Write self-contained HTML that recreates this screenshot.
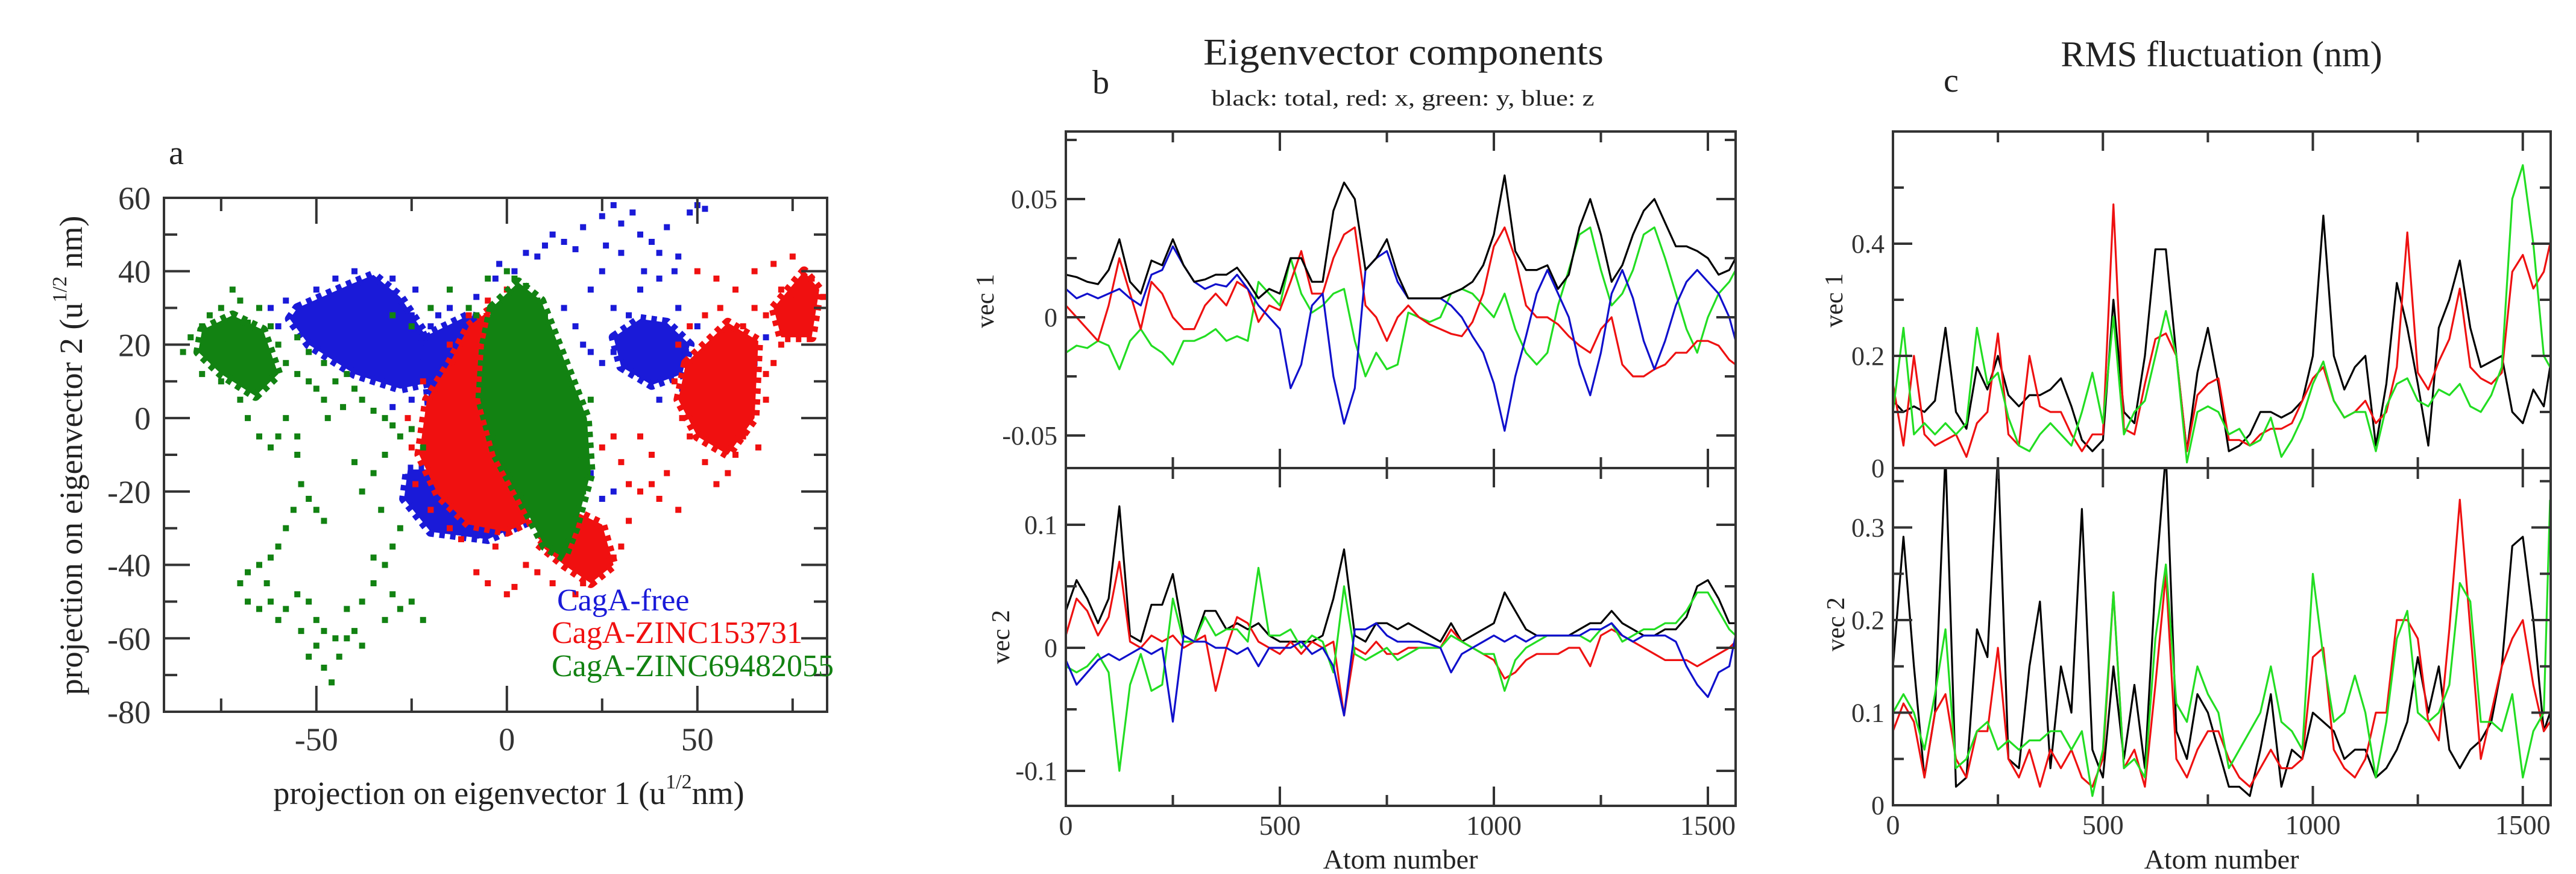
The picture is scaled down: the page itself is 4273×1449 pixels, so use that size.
<!DOCTYPE html>
<html><head><meta charset="utf-8"><style>
html,body{margin:0;padding:0;background:#fff;}
svg{display:block;}
text{font-family:"Liberation Serif","DejaVu Serif",serif;}
</style></head><body>
<svg id="fig" width="4273" height="1449" viewBox="0 0 4273 1449" xmlns="http://www.w3.org/2000/svg">
<defs>
<clipPath id="clipA"><rect x="272" y="328" width="1100" height="852"/></clipPath>
<clipPath id="clipB1"><rect x="1768" y="218" width="1111" height="558"/></clipPath>
<clipPath id="clipB2"><rect x="1768" y="776" width="1111" height="560"/></clipPath>
<clipPath id="clipC1"><rect x="3140" y="218" width="1091" height="558"/></clipPath>
<clipPath id="clipC2"><rect x="3140" y="776" width="1091" height="559"/></clipPath>
</defs>
<g id="panelA"></g>
<g id="panelB"></g>
<g id="panelC"></g>
<g fill="#222">
<text x="280" y="272" font-size="56">a</text>
<text x="1812" y="155" font-size="56">b</text>
<text x="3224" y="152" font-size="56">c</text>
<text x="2328" y="107" font-size="62" text-anchor="middle" textLength="664" lengthAdjust="spacingAndGlyphs">Eigenvector components</text>
<text x="2327" y="175" font-size="37" text-anchor="middle" textLength="635" lengthAdjust="spacingAndGlyphs">black: total, red: x, green: y, blue: z</text>
<text x="3685" y="110" font-size="60" text-anchor="middle">RMS fluctuation (nm)</text>
<text x="844" y="1333" font-size="54" text-anchor="middle">projection on eigenvector 1 (u<tspan dy="-26" font-size="34">1/2</tspan><tspan dy="26">nm)</tspan></text>
<text transform="translate(136,755) rotate(-90)" font-size="54" text-anchor="middle">projection on eigenvector 2 (u<tspan dy="-26" font-size="34">1/2</tspan><tspan dy="26"> nm)</tspan></text>
<text x="2323" y="1440" font-size="46" text-anchor="middle">Atom number</text>
<text x="3685" y="1440" font-size="46" text-anchor="middle">Atom number</text>
<text transform="translate(1648,499) rotate(-90)" font-size="42" text-anchor="middle">vec 1</text>
<text transform="translate(1674,1056) rotate(-90)" font-size="42" text-anchor="middle">vec 2</text>
<text transform="translate(3056,498) rotate(-90)" font-size="42" text-anchor="middle">vec 1</text>
<text transform="translate(3059,1035) rotate(-90)" font-size="42" text-anchor="middle">vec 2</text>
<text x="924" y="1012" font-size="52" fill="#1a1ad8">CagA-free</text>
<text x="915" y="1066" font-size="52" fill="#f01010">CagA-ZINC153731</text>
<text x="915" y="1121" font-size="52" fill="#128212">CagA-ZINC69482055</text>
</g>
</svg>
<script>
const blueCorePolys = [
 [[-55,30],[-42,36],[-35,39],[-28,33],[-21,22],[-19,10],[-28,8],[-40,12],[-52,20],[-57,27]],
 [[28,22],[35,27],[42,26],[48,20],[46,12],[38,9],[30,14]],
 [[-26,-14],[-15,-14],[0,-21],[6,-28],[-5,-33],[-20,-31],[-27,-22]],
 [[-22,22],[-10,28],[0,25],[0,0],[-20,0]]
];
const blueSparse = [[5,45],[10,47],[12,50],[15,48],[18,46],[-2,42],[2,40],[20,52],[25,55],[28,58],[30,53],[33,56],[35,50],[38,48],[40,45],[42,52],[45,44],[48,56],[50,58],[52,57],[30,45],[25,40],[22,35],[28,30],[32,28],[35,35],[40,38],[15,30],[18,25],[20,20],[22,18],[25,15],[28,18],[45,30],[50,25],[55,20],[60,18],[65,15],[68,22],[62,8],[58,5],[52,10],[-3,38],[-8,33],[-15,30],[-18,28],[-62,30],[-60,25],[-58,32],[-50,35],[-45,38],[-40,40],[-35,36],[-30,34],[-25,28],[-20,25],[-22,15],[-18,5],[-25,5],[-30,3],[-20,-2],[-22,-22],[-26,-16],[-20,-26],[-12,-30],[-8,-32],[0,-30],[5,-25],[20,-5],[22,-15],[25,-22],[28,-20],[12,-20],[42,15],[46,8],[40,5],[35,12],[8,44],[-30,38],[-48,28],[-24,35],[55,15],[63,20],[47,18],[36,40],[26,47],[44,40]];
const redCorePolys = [
 [[-10,25],[-5,29],[0,16],[1,-10],[6,-28],[0,-31],[-10,-29],[-18,-21],[-23,-10],[-21,5],[-15,15]],
 [[47,15],[58,26],[66,21],[65,0],[58,-10],[50,-5],[45,5]],
 [[70,30],[78,40],[82,35],[80,22],[72,22]],
 [[15,-24],[25,-29],[28,-40],[22,-45],[15,-40],[8,-34]]
];
const redSparse = [[50,40],[55,38],[60,35],[65,40],[70,42],[75,44],[80,38],[83,33],[78,30],[72,35],[68,28],[62,25],[56,30],[52,28],[48,25],[45,20],[44,10],[46,0],[48,-5],[52,-12],[55,-18],[58,-15],[60,-10],[62,-5],[66,-8],[68,5],[70,15],[72,20],[65,30],[42,-15],[40,-22],[35,-20],[32,-18],[30,-12],[28,-5],[25,-8],[35,-5],[38,-10],[45,-25],[20,-45],[18,-48],[12,-45],[8,-42],[5,-40],[2,-46],[0,-48],[-5,-45],[-8,-42],[-3,-35],[-12,-33],[-15,-30],[-20,-25],[-24,-18],[-25,-8],[-26,0],[-22,10],[-15,20],[-10,28],[-5,32],[0,35],[25,-40],[28,-38],[30,-35],[22,-35],[15,-30],[32,-28],[38,-18],[60,12],[54,5],[62,-2],[76,32],[74,26],[68,12]];
const greenCorePolys = [
 [[-4,30],[3,37],[9,32],[15,16],[21,0],[22,-15],[18,-30],[15,-38],[10,-35],[5,-25],[-3,-10],[-7,5],[-6,20]],
 [[-80,24],[-72,28],[-64,24],[-60,12],[-66,6],[-75,12],[-81,18]]
];
const greenSparse = [[-85,18],[-83,22],[-80,25],[-78,28],[-75,30],[-72,35],[-70,32],[-68,26],[-65,30],[-62,25],[-60,20],[-58,15],[-55,12],[-52,10],[-50,8],[-48,5],[-45,10],[-42,12],[-40,8],[-38,5],[-35,2],[-32,0],[-30,-2],[-28,-5],[-25,-3],[-22,-8],[-55,22],[-52,18],[-48,15],[-58,0],[-55,-5],[-60,-5],[-62,-8],[-65,-5],[-68,0],[-70,5],[-75,10],[-80,12],[-55,-10],[-54,-18],[-52,-22],[-50,-25],[-48,-28],[-56,-25],[-58,-30],[-60,-35],[-62,-38],[-65,-40],[-68,-42],[-70,-45],[-68,-50],[-65,-52],[-62,-50],[-60,-55],[-58,-52],[-55,-48],[-52,-50],[-50,-55],[-48,-58],[-50,-62],[-52,-65],[-48,-68],[-46,-72],[-44,-65],[-42,-60],[-40,-58],[-38,-62],[-42,-52],[-38,-50],[-35,-45],[-32,-40],[-30,-35],[-28,-30],[-30,-48],[-28,-52],[-25,-50],[-22,-55],[-32,-55],[-35,-38],[-33,-25],[-38,-20],[-35,-15],[-32,-10],[-40,-12],[-15,35],[-10,30],[-8,28],[-5,38],[0,40],[2,38],[5,36],[8,32],[10,28],[-20,30],[-25,25],[-30,28],[-73,20],[-77,15],[-66,18],[-62,14],[-45,-60],[-54,-58],[-63,-45],[-47,0],[-43,3],[20,-20],[18,-10],[22,5]];

const atoms = [0,25,50,75,100,125,150,175,200,225,250,275,300,325,350,375,400,425,450,475,500,525,550,575,600,625,650,675,700,725,750,775,800,825,850,875,900,925,950,975,1000,1025,1050,1075,1100,1125,1150,1175,1200,1225,1250,1275,1300,1325,1350,1375,1400,1425,1450,1475,1500,1525,1550,1565];
const b1Total = [18,17,15,14,20,33,15,10,24,22,33,22,15,16,18,18,21,15,8,12,10,25,25,15,15,45,57,50,20,25,33,18,8,8,8,8,10,12,15,22,35,60,28,20,20,22,12,18,38,50,35,15,22,35,45,50,40,30,30,28,25,18,20,25];
const b1X = [5,0,-5,-10,5,25,10,-5,15,10,0,-5,-5,5,10,5,15,12,-2,5,3,15,28,10,10,25,35,38,5,0,-10,0,5,0,-3,-5,-7,-8,-2,10,30,38,25,5,0,0,-3,-8,-12,-15,-5,0,-20,-25,-25,-22,-20,-15,-15,-10,-10,-12,-18,-20];
const b1Y = [-15,-12,-13,-10,-12,-22,-10,-5,-12,-15,-20,-10,-10,-8,-5,-10,-8,-10,15,10,5,25,10,2,5,10,12,-10,-25,-15,-22,-20,2,0,-2,0,10,12,10,5,0,10,-5,-15,-20,-15,5,20,35,38,20,5,10,20,35,38,25,10,-5,-15,0,10,15,20];
const b1Z = [12,8,10,8,10,12,8,5,18,20,30,22,15,12,14,13,18,12,5,0,-5,-30,-20,5,10,-25,-45,-30,20,25,28,15,8,8,8,8,5,0,-8,-15,-28,-48,-25,-8,10,20,10,0,-20,-33,-15,10,20,8,-10,-22,-10,5,15,20,15,10,0,-10];
const b2Total = [30,55,40,20,40,115,10,5,35,35,60,10,5,30,30,15,20,15,20,10,5,5,5,5,10,40,80,10,5,20,20,15,20,15,10,5,20,5,10,15,20,45,30,15,10,10,10,10,15,20,20,30,20,15,10,10,15,15,25,50,55,40,20,20];
const b2X = [10,40,30,10,25,70,5,0,10,5,10,0,5,10,-35,0,25,20,5,0,-5,5,-5,5,0,5,-55,0,-5,5,-5,-5,0,0,0,0,15,5,0,-5,-10,-25,-20,-10,-5,-5,-5,0,0,-15,10,15,10,5,0,-5,-10,-10,-10,-15,-10,-5,0,5];
const b2Y = [-15,-20,-15,-5,-20,-100,-30,-5,-35,-30,40,5,5,25,10,15,15,5,65,10,10,15,0,10,5,-20,50,-5,-10,-5,0,-10,-5,0,0,0,10,5,0,-5,-5,-35,-10,0,5,10,10,10,10,5,15,20,5,10,15,15,20,20,30,45,45,30,15,10];
const b2Z = [-10,-30,-20,-10,-5,-10,-5,0,-5,0,-60,10,5,5,0,0,-5,0,-15,0,0,0,5,-5,0,-15,-55,15,15,20,10,5,5,5,3,0,-20,-5,0,5,10,5,10,5,10,10,10,10,10,15,15,20,10,5,10,10,10,5,-15,-30,-40,-20,-15,10];
const c1Total = [120,100,110,100,120,250,100,70,180,140,200,130,110,130,130,140,160,110,50,30,50,300,100,80,200,390,390,200,30,170,250,150,30,40,60,100,100,90,100,120,200,450,200,140,180,200,40,150,330,250,150,40,250,300,370,250,180,190,200,100,80,140,110,180];
const c1X = [150,40,200,60,40,50,60,20,80,100,240,60,40,200,110,100,100,60,30,60,60,470,70,60,150,230,240,200,30,130,150,160,50,50,40,60,70,70,80,120,160,180,120,90,100,120,80,100,180,420,170,140,190,230,320,180,160,150,170,350,380,320,350,400];
const c1Y = [100,250,60,80,60,80,60,80,250,150,170,90,40,30,60,80,60,40,100,170,80,270,60,100,120,200,280,200,10,100,110,100,60,70,40,50,90,20,50,90,150,190,120,90,100,100,30,110,150,160,120,110,140,130,150,110,100,130,180,480,540,400,200,180];
const c2Total = [150,290,150,30,100,380,20,30,190,160,380,50,40,150,220,40,150,100,320,60,30,150,50,130,40,240,380,80,50,120,100,60,20,20,10,60,120,20,60,50,100,90,80,50,60,60,30,40,60,90,160,100,150,60,40,60,70,90,150,280,290,200,80,100];
const c2X = [80,110,90,30,100,120,50,30,80,80,170,50,30,60,20,60,40,60,30,20,50,230,40,60,20,130,250,50,30,60,80,80,50,30,20,40,60,40,40,50,160,170,60,40,30,50,100,100,200,200,180,90,70,190,330,190,50,100,150,180,200,130,80,90];
const c2Y = [100,120,100,60,120,190,40,50,80,90,60,70,60,70,70,80,80,60,80,10,60,230,40,50,30,180,260,110,90,150,120,100,40,60,80,100,150,90,80,60,250,160,90,100,140,100,30,90,180,210,100,90,100,130,240,220,90,90,80,120,30,80,100,330];

const NS = 'http://www.w3.org/2000/svg';
function mk(tag, attrs, parent){
  const e = document.createElementNS(NS, tag);
  for (const k in attrs) e.setAttribute(k, attrs[k]);
  parent.appendChild(e);
  return e;
}
function ticks(g, o){
  let d = '';
  o.xs.forEach(t => {
    if (o.bottom) d += `M${t[0]},${o.y1}v${-t[1]}`;
    if (o.top) d += `M${t[0]},${o.y0}v${t[1]}`;
  });
  o.ys.forEach(t => {
    d += `M${o.x0},${t[0]}h${t[1]}M${o.x1},${t[0]}h${-t[1]}`;
  });
  const p = mk('path', {d: d, stroke: '#333', 'stroke-width': 4, fill: 'none'}, g);
  
  
}
function label(g, x, y, txt, anchor, size, name){
  const t = mk('text', {x: x, y: y, 'font-size': size, 'text-anchor': anchor, fill: '#333'}, g);
  t.textContent = txt;
  
  
}

(function(){
  const g = document.getElementById('panelA');
  const X = v => 272 + (v + 90) * 6.32;
  const Y = v => 1180 - (v + 80) * 6.086;
  const plot = mk('g', {'clip-path': 'url(#clipA)'}, g);
  
  
  function series(polys, pts, color, name){
    const sg = mk('g', {fill: color}, plot);
    
    
    polys.forEach(p => {
      const poly = mk('polygon', {points: p.map(q => X(q[0]) + ',' + Y(q[1])).join(' '), stroke: color, 'stroke-width': 16, 'stroke-dasharray': '9 9', 'stroke-linejoin': 'round'}, sg);
      
      
    });
    pts.forEach(q => {
      const r = mk('rect', {x: X(q[0]) - 5, y: Y(q[1]) - 5, width: 10, height: 10}, sg);
      
      
    });
  }
  series(blueCorePolys, blueSparse, '#1a1ad8', 'series-cagA-free');
  series(redCorePolys, redSparse, '#f01010', 'series-zinc153731');
  series(greenCorePolys, greenSparse, '#128212', 'series-zinc69482055');
  const fr = mk('rect', {x: 272, y: 328, width: 1100, height: 852, fill: 'none', stroke: '#333', 'stroke-width': 4}, g);
  
  
  const xs = [], ys = [];
  [-75,-50,-25,0,25,50,75].forEach(v => xs.push([X(v), v % 50 === 0 ? 43 : 22]));
  for (let v = -70; v <= 50; v += 10) ys.push([Y(v), v % 20 === 0 ? 43 : 22]);
  ticks(g, {x0: 272, x1: 1372, y0: 328, y1: 1180, xs: xs, ys: ys, top: true, bottom: true, name: 'axis-ticks-a'});
  [-50,0,50].forEach(v => label(g, X(v), 1244, String(v), 'middle', 54, 'x-tick-label'));
  for (let v = -80; v <= 60; v += 20) label(g, 250, Y(v) + 19, String(v), 'end', 54, 'y-tick-label');
})();

function linePanel(g, cfg){
  const X = a => cfg.x0 + a * cfg.sx;
  cfg.subs.forEach(s => {
    const Y = v => s.zero - v / 1000 * s.sy;
    const lg = mk('g', {'clip-path': `url(#${s.clip})`, fill: 'none', 'stroke-width': 3.2, 'stroke-linejoin': 'round'}, g);
    
    
    s.series.forEach(sr => {
      const d = sr.vals.map((v, i) => (i ? 'L' : 'M') + X(atoms[i]).toFixed(1) + ',' + Y(v).toFixed(1)).join('');
      const p = mk('path', {d: d, stroke: sr.color}, lg);
      
      
    });
    const xs = [];
    [250,500,750,1000,1250,1500].forEach(a => xs.push([X(a), a % 500 === 0 ? 32 : 18]));
    const ys = s.ticks.map(t => [Y(t[0] * 1000), t[1] ? 32 : 18]);
    ticks(g, {x0: cfg.x0, x1: cfg.x1, y0: s.top, y1: s.bottom, xs: xs, ys: ys, top: true, bottom: true, name: s.name + '-ticks'});
    s.labels.forEach(l => label(g, cfg.labelX, Y(l[0] * 1000) + 15, l[1], 'end', 44, s.name + '-y-tick-label'));
  });
  const fr = mk('rect', {x: cfg.x0, y: cfg.top, width: cfg.x1 - cfg.x0, height: cfg.bottom - cfg.top, fill: 'none', stroke: '#333', 'stroke-width': 4}, g);
  
  
  const dv = mk('line', {x1: cfg.x0, x2: cfg.x1, y1: cfg.mid, y2: cfg.mid, stroke: '#333', 'stroke-width': 4}, g);
  
  
  [0,500,1000,1500].forEach(a => label(g, X(a), cfg.bottom + 48, String(a), 'middle', 46, 'x-tick-label'));
}

linePanel(document.getElementById('panelB'), {
  name: 'panel-b', x0: 1768, x1: 2879, sx: 0.71, top: 218, mid: 776, bottom: 1336, labelX: 1754,
  subs: [
    {name: 'vec1', clip: 'clipB1', zero: 526, sy: 3920, top: 218, bottom: 776,
     ticks: [[-0.05,1],[-0.025,0],[0,1],[0.025,0],[0.05,1],[0.075,0]],
     labels: [[-0.05,'-0.05'],[0,'0'],[0.05,'0.05']],
     series: [{vals: b1Y, color: '#22dd22', name: 'vec1-green-y'},{vals: b1X, color: '#ee1111', name: 'vec1-red-x'},{vals: b1Z, color: '#1010cc', name: 'vec1-blue-z'},{vals: b1Total, color: '#000', name: 'vec1-black-total'}]},
    {name: 'vec2', clip: 'clipB2', zero: 1074, sy: 2040, top: 776, bottom: 1336,
     ticks: [[-0.1,1],[-0.05,0],[0,1],[0.05,0],[0.1,1]],
     labels: [[-0.1,'-0.1'],[0,'0'],[0.1,'0.1']],
     series: [{vals: b2Total, color: '#000', name: 'vec2-black-total'},{vals: b2X, color: '#ee1111', name: 'vec2-red-x'},{vals: b2Y, color: '#22dd22', name: 'vec2-green-y'},{vals: b2Z, color: '#1010cc', name: 'vec2-blue-z'}]}
  ]
});

linePanel(document.getElementById('panelC'), {
  name: 'panel-c', x0: 3140, x1: 4231, sx: 0.6965, top: 218, mid: 776, bottom: 1335, labelX: 3126,
  subs: [
    {name: 'rms-vec1', clip: 'clipC1', zero: 776, sy: 930, top: 218, bottom: 776,
     ticks: [[0.1,0],[0.2,1],[0.3,0],[0.4,1],[0.5,0]],
     labels: [[0,'0'],[0.2,'0.2'],[0.4,'0.4']],
     series: [{vals: c1Total, color: '#000', name: 'rms-vec1-black'},{vals: c1X, color: '#ee1111', name: 'rms-vec1-red'},{vals: c1Y, color: '#22dd22', name: 'rms-vec1-green'}]},
    {name: 'rms-vec2', clip: 'clipC2', zero: 1335, sy: 1535, top: 776, bottom: 1335,
     ticks: [[0.05,0],[0.1,1],[0.15,0],[0.2,1],[0.25,0],[0.3,1],[0.35,0]],
     labels: [[0,'0'],[0.1,'0.1'],[0.2,'0.2'],[0.3,'0.3']],
     series: [{vals: c2Total, color: '#000', name: 'rms-vec2-black'},{vals: c2X, color: '#ee1111', name: 'rms-vec2-red'},{vals: c2Y, color: '#22dd22', name: 'rms-vec2-green'}]}
  ]
});
</script>
</body></html>
